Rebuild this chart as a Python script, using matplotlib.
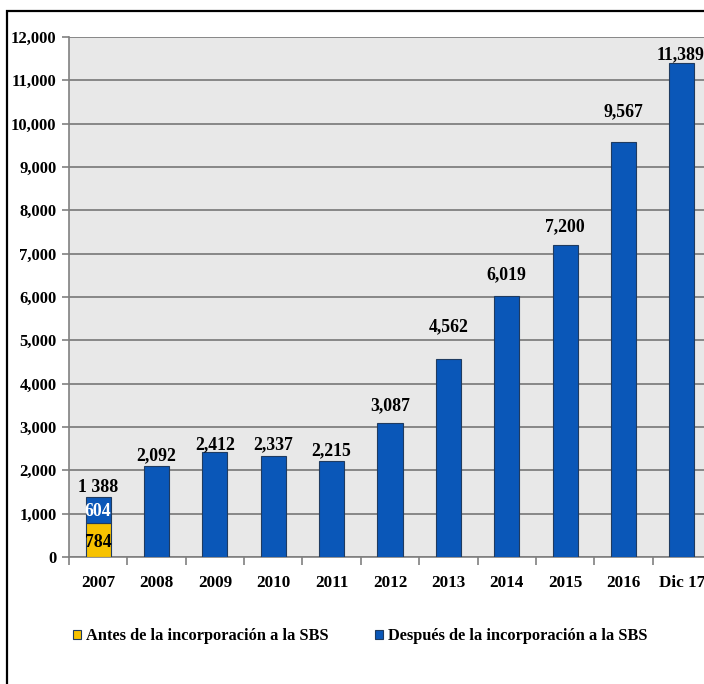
import matplotlib.pyplot as plt
from matplotlib.patches import Rectangle
from matplotlib.ticker import FuncFormatter

years = ['2007', '2008', '2009', '2010', '2011', '2012', '2013', '2014', '2015', '2016', 'Dic 17']
antes = [784, 0, 0, 0, 0, 0, 0, 0, 0, 0, 0]
despues = [604, 2092, 2412, 2337, 2215, 3087, 4562, 6019, 7200, 9567, 11389]
total_labels = ['1 388', '2,092', '2,412', '2,337', '2,215', '3,087', '4,562', '6,019', '7,200', '9,567', '11,389']
# height (in data units) where each total label sits, as placed in the original
label_y = [1640, 2380, 2640, 2640, 2500, 3540, 5350, 6550, 7660, 10310, 11630]

plt.rcParams['font.family'] = ['Liberation Serif', 'DejaVu Serif']
plt.rcParams['font.weight'] = 'bold'

blue = '#0a57b8'
yellow = '#f7c200'

fig = plt.figure(figsize=(7.04, 6.84), dpi=100)
ax = fig.add_axes([69 / 704, 1 - 557 / 684, 642 / 704, 520 / 684])
ax.set_facecolor('#e8e8e8')

x = list(range(len(years)))
ax.bar(x[:1], antes[:1], width=0.43, color=yellow, edgecolor='#1f3b60', linewidth=0.8, zorder=3,
       label='Antes de la incorporación a la SBS')
ax.bar(x, despues, width=0.43, bottom=antes, color=blue, edgecolor='#1f3b60', linewidth=0.8, zorder=3,
       label='Después de la incorporación a la SBS')

for i, (ly, lab) in enumerate(zip(label_y, total_labels)):
    xi = i - 0.03 if i == len(years) - 1 else i  # last one sits against the edge
    ax.text(xi, ly, lab, ha='center', va='center_baseline', fontsize=12.8, fontweight='bold')
ax.text(0, antes[0] / 2, str(antes[0]), ha='center', va='center_baseline', fontsize=12.8, fontweight='bold',
        color='black', zorder=4)
ax.text(0, antes[0] + despues[0] / 2, str(despues[0]), ha='center', va='center_baseline', fontsize=12.8,
        fontweight='bold', color='white', zorder=4)

ax.set_ylim(0, 12000)
ax.set_xlim(-0.5, len(years) - 0.5)
ax.set_yticks(range(0, 12001, 1000))
ax.yaxis.set_major_formatter(FuncFormatter(lambda v, p: f'{int(v):,}'))
ax.yaxis.grid(True, color='#7f7f7f', linewidth=1.3, zorder=1)
ax.set_axisbelow(True)
ax.set_xticks(x)
ax.set_xticklabels(years)
ax.set_xticks([i - 0.5 for i in range(len(years) + 1)], minor=True)
ax.tick_params(axis='x', which='major', length=0, pad=13, labelsize=12.3)
ax.tick_params(axis='x', which='minor', length=6, color='#808080', width=1.2)
ax.tick_params(axis='y', length=5, color='#808080', width=1.2, labelsize=12, pad=4)
for s in ['top', 'right']:
    ax.spines[s].set_visible(False)
for s in ['left', 'bottom']:
    ax.spines[s].set_color('#808080')
    ax.spines[s].set_linewidth(1.2)

fig.legend(loc='center left', bbox_to_anchor=(58 / 704, 1 - 636 / 684), ncol=2, frameon=False,
           fontsize=11.8, handlelength=0.5, handleheight=0.5, handletextpad=0.3, columnspacing=2.85)

fig.patches.append(Rectangle((7 / 704, -0.05), 1.2, 1 - 11 / 684 + 0.05, transform=fig.transFigure,
                             fill=False, edgecolor='black', linewidth=1.6))

fig.savefig('out.png', dpi=100)
